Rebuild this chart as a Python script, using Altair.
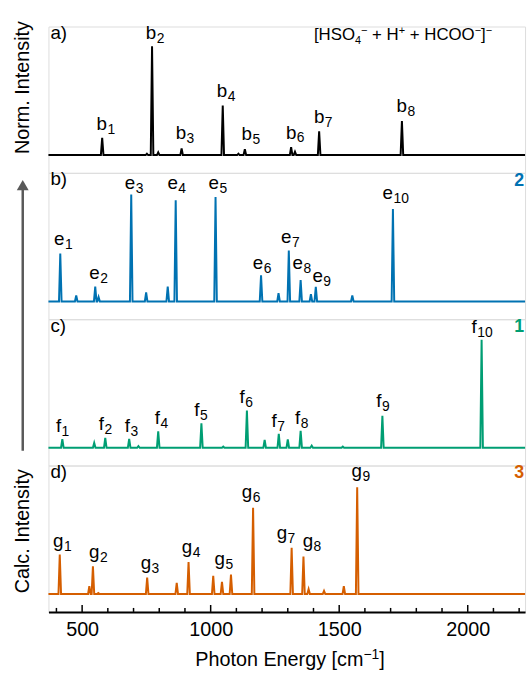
import altair as alt
import pandas as pd

FONT = "Liberation Sans"

# ---------------- data ----------------
X_MIN, X_MAX = 369, 2223
MAJOR_TICKS = [500, 1000, 1500, 2000]
MINOR_TICKS = [400, 600, 700, 800, 900, 1100, 1200, 1300, 1400, 1600, 1700, 1800, 1900, 2100, 2200]

# a) experiment (black)
A_POS = [578, 752, 772, 796, 887, 1047, 1108, 1133, 1313, 1328, 1422, 1744]
A_INT = [0.158, 0.012, 1.0, 0.025, 0.061, 0.455, 0.012, 0.055, 0.073, 0.03, 0.218, 0.312]
A_SUB = ["1", "2", "3", "4", "5", "6", "7", "8"]
A_LX = [591, 783, 899, 1059, 1155, 1328, 1437, 1758]
A_LY = [0.227, 1.067, 0.145, 0.53, 0.136, 0.152, 0.297, 0.394]

# b) isomer 2 (blue)
B_POS = [415, 477, 551, 564, 691, 749, 833, 864, 1019, 1196, 1264, 1304, 1350, 1390, 1409, 1551, 1709]
B_INT = [0.44, 0.055, 0.136, 0.04, 0.982, 0.082, 0.136, 0.93, 0.96, 0.24, 0.076, 0.467, 0.197, 0.067, 0.133, 0.055, 0.85]
B_SUB = ["1", "2", "3", "4", "5", "6", "7", "8", "9", "10"]
B_LX = [426, 563, 701, 867, 1027, 1199, 1309, 1354, 1431, 1719]
B_LY = [0.52, 0.203, 1.036, 1.036, 1.036, 0.294, 0.536, 0.294, 0.182, 0.945]

# c) isomer 1 (green)
C_POS = [423, 547, 590, 683, 719, 796, 964, 1049, 1141, 1210, 1265, 1300, 1350, 1393, 1514, 1668, 2054]
C_INT = [0.079, 0.045, 0.09, 0.082, 0.015, 0.152, 0.224, 0.01, 0.342, 0.073, 0.127, 0.076, 0.155, 0.02, 0.01, 0.294, 0.994]
C_SUB = ["1", "2", "3", "4", "5", "6", "7", "8", "9", "10"]
C_LX = [423, 590, 691, 808, 961, 1137, 1262, 1353, 1669, 2055]
C_LY = [0.145, 0.16, 0.145, 0.221, 0.29, 0.412, 0.19, 0.221, 0.373, 1.055]

# d) isomer 3 (orange)
D_POS = [413, 528, 542, 563, 753, 868, 914, 1010, 1044, 1079, 1165, 1315, 1361, 1381, 1441, 1518, 1570]
D_INT = [0.364, 0.073, 0.255, 0.01, 0.152, 0.103, 0.294, 0.167, 0.112, 0.179, 0.794, 0.427, 0.345, 0.045, 0.03, 0.073, 0.982]
D_SUB = ["1", "2", "3", "4", "5", "6", "7", "8", "9"]
D_LX = [422, 562, 763, 923, 1050, 1156, 1292, 1393, 1583]
D_LY = [0.436, 0.33, 0.233, 0.376, 0.264, 0.879, 0.506, 0.43, 1.073]

# ---------------- layout ----------------
W, H = 482, 148
PX_PER_UNIT = 110.0
BASE_PX = 18
Y_MIN = -BASE_PX / PX_PER_UNIT
Y_MAX = (H - BASE_PX) / PX_PER_UNIT
CM_PER_PX = (X_MAX - X_MIN) / W
LBL_SIZE, SUB_SIZE = 19, 14
HW = 5  # half base width of each peak, cm-1

# Arial / Liberation Sans advance widths (per 1000 em)
ARIAL = {"b": 556, "e": 556, "f": 278, "g": 556, "0": 556, "1": 556, "2": 556, "3": 556,
         "4": 556, "5": 556, "6": 556, "7": 556, "8": 556, "9": 556, "[": 278, "]": 278,
         "H": 722, "S": 667, "O": 778, "C": 722, "+": 584, "\u2212": 584, " ": 278,
         "P": 667, "h": 556, "o": 556, "t": 278, "n": 556, "E": 667, "r": 333, "y": 500,
         "c": 500, "m": 833}


def tw(s, size):
    return sum(ARIAL[c] for c in s) * size / 1000


BLACK, BLUE, GREEN, ORANGE = "#000000", "#0072B2", "#009E73", "#D55E00"
GREY = "#595959"
ONE = pd.DataFrame({"v": [0]})


def spectrum_frame(pos, inten):
    xs, ys = [X_MIN], [0.0]
    for p, h in sorted(zip(pos, inten)):
        xs += [p - HW, p, p + HW]
        ys += [0.0, h, 0.0]
    xs.append(X_MAX)
    ys.append(0.0)
    return pd.DataFrame({"x": xs, "y": ys, "i": range(len(xs))})


def label_frame(letter, subs, xs, ys):
    lw = tw(letter, LBL_SIZE)
    rows = []
    for s, xc, yv in zip(subs, xs, ys):
        sw = tw(s, SUB_SIZE)
        seam = xc + (lw - sw) / 2 * CM_PER_PX
        rows.append({"letter": letter, "sub": s, "x": seam, "y": yv})
    return pd.DataFrame(rows)


XSCALE = alt.Scale(domain=[X_MIN, X_MAX], nice=False, zero=False)
YSCALE = alt.Scale(domain=[Y_MIN, Y_MAX], nice=False, zero=False)

BOTTOM_AXIS = alt.Axis(values=MAJOR_TICKS, format="d", ticks=False, tickSize=0, grid=False,
                       domainWidth=2, domainColor="black", labelFontSize=20, labelFont=FONT,
                       labelColor="black", labelPadding=8, title=None, labelFlush=False)


def xenc(bottom):
    return alt.X("x:Q", scale=XSCALE, axis=BOTTOM_AXIS if bottom else None)


def yenc():
    return alt.Y("y:Q", scale=YSCALE, axis=None)


def txt(text, x, y, size, color="black", bold=False, align="left", baseline="alphabetic", angle=0):
    kw = dict(text=text, fontSize=size, font=FONT, color=color, align=align, baseline=baseline)
    if bold:
        kw["fontWeight"] = "bold"
    if angle:
        kw["angle"] = angle
    return alt.Chart(ONE).mark_text(**kw).encode(x=alt.value(x), y=alt.value(y))


def composed(pieces, x0, base, big, small, sub_dy, sup_dy):
    """Lay out normal / sub / sup pieces one after another (spaces advance the cursor)."""
    layers, cur = [], x0
    for t, kind in pieces:
        size = big if kind == "n" else small
        dy = 0 if kind == "n" else (sub_dy if kind == "sub" else sup_dy)
        lead = len(t) - len(t.lstrip(" "))
        cur += tw(" " * lead, size)
        t = t.lstrip(" ")
        layers.append(txt(t, cur, base + dy, size))
        cur += tw(t, size)
    return layers


def panel(pos, inten, letter, subs, lx, ly, color, tag, num=None, bottom=False, extras=()):
    line = alt.Chart(spectrum_frame(pos, inten)).mark_line(color=color, strokeWidth=2).encode(
        x=xenc(bottom), y=yenc(), order=alt.Order("i:Q"))
    lab = label_frame(letter, subs, lx, ly)
    letters = alt.Chart(lab).mark_text(align="right", baseline="alphabetic", fontSize=LBL_SIZE,
                                       font=FONT, color="black").encode(
        x=xenc(bottom), y=yenc(), text="letter:N")
    subtxt = alt.Chart(lab).mark_text(align="left", baseline="alphabetic", fontSize=SUB_SIZE,
                                      font=FONT, color="black", dy=4, dx=0.5).encode(
        x=xenc(bottom), y=yenc(), text="sub:N")
    layers = [line, letters, subtxt, txt(tag, 2, 12.5, 19)]
    if num:
        layers.append(txt(num, 471, 13, 18, color=color, bold=True))
    layers += list(extras)
    return alt.layer(*layers).properties(width=W, height=H)


PL = 48  # plot-area left edge in the page

# title [HSO4- + H+ + HCOO-]-
title_pieces = [("[HSO", "n"), ("4", "sub"), ("\u2212", "sup"), (" + H", "n"), ("+", "sup"),
                (" + HCOO", "n"), ("\u2212", "sup"), ("]", "n"), ("\u2212", "sup")]
title_layers = composed(title_pieces, 316.5 - PL, 13.9, 17, 11, 4, -6.5)

norm_title = txt("Norm. Intensity", -26, 61.7, 20, align="center", baseline="middle", angle=270)
calc_title = txt("Calc. Intensity", -26, 66.5, 20, align="center", baseline="middle", angle=270)

arrow_shaft = alt.Chart(ONE).mark_rule(color=GREY, strokeWidth=2.5).encode(
    x=alt.value(-26), y=alt.value(15), y2=alt.value(281))
arrow_head = alt.Chart(ONE).mark_point(shape="M0,-0.85L-1,0.85L1,0.85Z", filled=True, size=144,
                                       color=GREY, opacity=1).encode(
    x=alt.value(-26), y=alt.value(12.4))

# bottom axis: inward ticks and composed title
major_df = pd.DataFrame({"x": MAJOR_TICKS})
minor_df = pd.DataFrame({"x": MINOR_TICKS})
major_rules = alt.Chart(major_df).mark_rule(color="black", strokeWidth=1.5).encode(
    x=xenc(True), y=alt.value(H), y2=alt.value(H - 7))
minor_rules = alt.Chart(minor_df).mark_rule(color="black", strokeWidth=1.5).encode(
    x=xenc(True), y=alt.value(H), y2=alt.value(H - 4))

xtitle = composed([("Photon Energy [cm", "n"), ("\u22121", "sup"), ("]", "n")],
                  196.5 - PL, 202.5, 20, 14, 4, -7)

pa = panel(A_POS, A_INT, "b", A_SUB, A_LX, A_LY, BLACK, "a)", None,
           extras=title_layers + [norm_title])
pb = panel(B_POS, B_INT, "e", B_SUB, B_LX, B_LY, BLUE, "b)", "2",
           extras=[arrow_shaft, arrow_head])
pc = panel(C_POS, C_INT, "f", C_SUB, C_LX, C_LY, GREEN, "c)", "1")
pd_ = panel(D_POS, D_INT, "g", D_SUB, D_LX, D_LY, ORANGE, "d)", "3", bottom=True,
            extras=[major_rules, minor_rules, calc_title] + xtitle)

chart = alt.vconcat(pa, pb, pc, pd_, spacing=0, bounds="flush").properties(
    padding={"left": 12, "top": 16, "right": 0, "bottom": 2}
).configure_view(stroke=None).configure(font=FONT)

chart.save("out.html", embed_options={"renderer": "svg", "actions": False})
